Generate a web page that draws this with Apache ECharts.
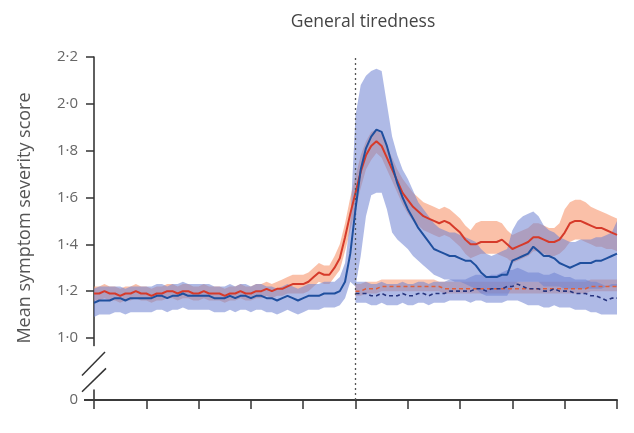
<!DOCTYPE html>
<html>
<head>
<meta charset="utf-8">
<style>html,body{margin:0;padding:0;background:#fff;}#c{width:634px;height:433px;}</style>
<script src="https://cdn.jsdelivr.net/npm/echarts@6/dist/echarts.min.js"></script>
</head>
<body>
<div id="c"></div>
<script>
// x positions: 10 tick intervals, samples every 0.1
const xTicks = [0,1,2,3,4,5,6,7,8,9,10];
const testX = 5;
const yTickValues = [0.735, 1.0, 1.2, 1.4, 1.6, 1.8, 2.0, 2.2];
const yTickLabels = ['0', '1·0', '1·2', '1·4', '1·6', '1·8', '2·0', '2·2'];

const redMean = [1.19,1.19,1.20,1.19,1.19,1.18,1.19,1.19,1.20,1.19,
 1.19,1.18,1.19,1.19,1.20,1.20,1.19,1.20,1.20,1.19,
 1.19,1.20,1.19,1.19,1.19,1.18,1.19,1.19,1.20,1.19,
 1.19,1.20,1.20,1.21,1.20,1.21,1.21,1.22,1.23,1.23,
 1.23,1.24,1.26,1.28,1.27,1.27,1.30,1.34,1.43,1.53,
 1.62,1.71,1.78,1.82,1.84,1.82,1.77,1.72,1.67,1.62,
 1.59,1.56,1.54,1.52,1.51,1.50,1.49,1.50,1.49,1.47,
 1.45,1.42,1.40,1.40,1.41,1.41,1.41,1.41,1.42,1.40,
 1.38,1.39,1.40,1.41,1.43,1.43,1.42,1.41,1.41,1.42,
 1.45,1.49,1.50,1.50,1.49,1.48,1.47,1.47,1.46,1.45,
 1.44];
const redUpper = [1.22,1.22,1.23,1.22,1.22,1.21,1.22,1.22,1.23,1.22,
 1.22,1.21,1.22,1.22,1.23,1.23,1.22,1.23,1.23,1.22,
 1.22,1.23,1.22,1.22,1.22,1.21,1.22,1.22,1.23,1.22,
 1.22,1.23,1.23,1.24,1.23,1.24,1.25,1.26,1.27,1.27,
 1.27,1.28,1.30,1.32,1.31,1.31,1.35,1.40,1.49,1.60,
 1.69,1.78,1.84,1.88,1.89,1.87,1.82,1.77,1.72,1.68,
 1.65,1.62,1.60,1.58,1.57,1.56,1.55,1.56,1.55,1.53,
 1.51,1.48,1.46,1.49,1.50,1.50,1.50,1.50,1.49,1.46,
 1.44,1.45,1.46,1.47,1.49,1.49,1.48,1.47,1.47,1.49,
 1.55,1.58,1.59,1.59,1.58,1.56,1.55,1.54,1.53,1.52,
 1.51];
const redLower = [1.16,1.16,1.17,1.16,1.16,1.15,1.16,1.16,1.17,1.16,
 1.16,1.15,1.16,1.16,1.17,1.17,1.16,1.17,1.17,1.16,
 1.16,1.17,1.16,1.16,1.16,1.15,1.16,1.16,1.17,1.16,
 1.16,1.17,1.17,1.18,1.17,1.18,1.18,1.19,1.19,1.19,
 1.19,1.20,1.22,1.24,1.23,1.23,1.26,1.29,1.37,1.46,
 1.55,1.64,1.72,1.76,1.79,1.77,1.72,1.67,1.62,1.57,
 1.53,1.50,1.48,1.46,1.45,1.44,1.43,1.44,1.43,1.41,
 1.39,1.36,1.34,1.35,1.36,1.36,1.36,1.36,1.35,1.34,
 1.32,1.33,1.34,1.35,1.37,1.37,1.36,1.35,1.35,1.36,
 1.38,1.41,1.42,1.42,1.41,1.40,1.39,1.39,1.38,1.38,
 1.37];

const blueMean = [1.15,1.16,1.16,1.16,1.17,1.17,1.16,1.17,1.17,1.17,
 1.17,1.17,1.18,1.18,1.17,1.18,1.18,1.19,1.18,1.18,
 1.18,1.18,1.18,1.17,1.17,1.17,1.18,1.17,1.18,1.18,
 1.17,1.18,1.18,1.17,1.17,1.16,1.17,1.18,1.17,1.16,
 1.17,1.18,1.18,1.18,1.19,1.19,1.19,1.20,1.24,1.36,
 1.55,1.72,1.81,1.86,1.89,1.88,1.82,1.74,1.66,1.60,
 1.55,1.51,1.47,1.44,1.41,1.38,1.37,1.36,1.35,1.35,
 1.34,1.33,1.33,1.31,1.28,1.26,1.26,1.26,1.27,1.27,
 1.33,1.34,1.35,1.36,1.39,1.37,1.35,1.35,1.34,1.32,
 1.31,1.30,1.31,1.32,1.32,1.32,1.33,1.33,1.34,1.35,
 1.36];
const blueUpper = [1.21,1.22,1.22,1.22,1.22,1.22,1.21,1.22,1.22,1.22,
 1.22,1.22,1.23,1.23,1.22,1.23,1.23,1.24,1.23,1.23,
 1.23,1.23,1.23,1.22,1.22,1.22,1.23,1.22,1.23,1.23,
 1.22,1.23,1.23,1.22,1.22,1.21,1.22,1.23,1.22,1.21,
 1.22,1.23,1.23,1.23,1.24,1.24,1.24,1.26,1.32,1.50,
 1.95,2.08,2.12,2.14,2.15,2.14,2.00,1.86,1.78,1.72,
 1.68,1.63,1.58,1.55,1.52,1.49,1.47,1.46,1.45,1.45,
 1.44,1.43,1.42,1.41,1.38,1.36,1.35,1.36,1.37,1.38,
 1.46,1.50,1.52,1.53,1.54,1.52,1.48,1.46,1.45,1.43,
 1.42,1.41,1.41,1.42,1.42,1.42,1.43,1.43,1.44,1.45,
 1.50];
const blueLower = [1.09,1.10,1.10,1.10,1.11,1.11,1.10,1.11,1.11,1.11,
 1.11,1.11,1.12,1.12,1.11,1.12,1.12,1.13,1.12,1.12,
 1.12,1.12,1.12,1.11,1.11,1.11,1.12,1.11,1.12,1.12,
 1.11,1.12,1.12,1.11,1.11,1.10,1.11,1.12,1.11,1.10,
 1.11,1.12,1.12,1.12,1.13,1.13,1.13,1.14,1.17,1.24,
 1.22,1.35,1.52,1.61,1.62,1.62,1.55,1.45,1.42,1.40,
 1.38,1.35,1.33,1.31,1.29,1.27,1.26,1.25,1.25,1.24,
 1.24,1.23,1.22,1.21,1.19,1.18,1.18,1.18,1.18,1.18,
 1.22,1.24,1.24,1.24,1.24,1.24,1.22,1.22,1.22,1.22,
 1.21,1.21,1.21,1.21,1.21,1.21,1.21,1.21,1.22,1.22,
 1.22];

// control groups (dashed), from the test day onward
const navyDashMean = [1.19,1.19,1.19,1.18,1.18,1.19,1.18,1.18,1.18,1.19,
 1.18,1.18,1.19,1.19,1.18,1.19,1.19,1.19,1.20,1.20,
 1.20,1.20,1.20,1.21,1.21,1.20,1.21,1.21,1.21,1.22,
 1.22,1.23,1.22,1.21,1.21,1.21,1.20,1.20,1.21,1.20,
 1.20,1.20,1.19,1.19,1.19,1.18,1.18,1.17,1.16,1.17,
 1.17];
const navyDashUpper = [1.24,1.24,1.24,1.23,1.23,1.24,1.23,1.23,1.23,1.24,
 1.23,1.23,1.24,1.24,1.23,1.24,1.24,1.24,1.25,1.25,
 1.25,1.25,1.26,1.27,1.27,1.26,1.27,1.27,1.28,1.29,
 1.29,1.30,1.29,1.28,1.28,1.28,1.27,1.27,1.28,1.27,
 1.26,1.26,1.25,1.25,1.25,1.24,1.24,1.23,1.22,1.23,
 1.23];
const navyDashLower = [1.15,1.15,1.15,1.14,1.14,1.15,1.14,1.14,1.14,1.15,
 1.14,1.14,1.15,1.15,1.14,1.15,1.15,1.15,1.16,1.16,
 1.16,1.16,1.15,1.16,1.16,1.15,1.15,1.15,1.15,1.16,
 1.16,1.16,1.15,1.14,1.14,1.14,1.13,1.13,1.14,1.13,
 1.13,1.13,1.12,1.12,1.12,1.11,1.11,1.10,1.10,1.10,
 1.10];
const redDashMean = [1.20,1.20,1.21,1.21,1.21,1.22,1.22,1.22,1.22,1.22,
 1.22,1.22,1.22,1.22,1.22,1.22,1.22,1.21,1.21,1.21,
 1.21,1.21,1.21,1.21,1.21,1.21,1.21,1.21,1.21,1.21,
 1.21,1.21,1.21,1.21,1.21,1.21,1.21,1.21,1.21,1.21,
 1.21,1.21,1.21,1.21,1.21,1.22,1.22,1.22,1.22,1.22,
 1.22];
const redDashUpper = [1.23,1.23,1.24,1.24,1.24,1.25,1.25,1.25,1.25,1.25,
 1.25,1.25,1.25,1.25,1.25,1.25,1.24,1.24,1.24,1.24,
 1.24,1.24,1.24,1.24,1.24,1.24,1.24,1.24,1.24,1.24,
 1.24,1.24,1.24,1.24,1.24,1.24,1.24,1.24,1.24,1.24,
 1.24,1.24,1.24,1.24,1.24,1.25,1.25,1.25,1.25,1.25,
 1.25];
const redDashLower = [1.18,1.18,1.19,1.19,1.19,1.20,1.20,1.20,1.20,1.20,
 1.20,1.20,1.20,1.20,1.20,1.20,1.20,1.19,1.19,1.19,
 1.19,1.19,1.19,1.19,1.19,1.19,1.19,1.19,1.19,1.19,
 1.19,1.19,1.19,1.19,1.19,1.19,1.19,1.19,1.19,1.19,
 1.19,1.19,1.19,1.19,1.19,1.20,1.20,1.20,1.20,1.20,
 1.20];

const STEP = 0.1;
function xAt(i, offset) { return Math.round((i + offset) * STEP * 1000) / 1000; }
function pairs(arr, offset) { return arr.map((v, i) => [xAt(i, offset), v]); }

function band(lower, upper, offset, fill, z) {
  return {
    type: 'custom', z: z, silent: true, clip: true,
    data: [[xAt(0, offset), lower[0]]],
    renderItem: function (params, api) {
      const pts = [];
      for (let i = 0; i < upper.length; i++) pts.push(api.coord([xAt(i, offset), upper[i]]));
      for (let i = lower.length - 1; i >= 0; i--) pts.push(api.coord([xAt(i, offset), lower[i]]));
      return { type: 'polygon', shape: { points: pts }, style: { fill: fill } };
    }
  };
}
function line(arr, offset, color, width, type, z) {
  return {
    type: 'line', data: pairs(arr, offset), symbol: 'none', silent: true, z: z,
    lineStyle: { color: color, width: width, type: type }
  };
}

const chart = echarts.init(document.getElementById('c'), null, { renderer: 'canvas' });
const dashOffset = testX / STEP;

const option = {
  animation: false,
  backgroundColor: '#ffffff',
  title: {
    text: 'General tiredness', left: 358, top: 8, textAlign: 'center',
    textStyle: { fontFamily: 'Open Sans', fontSize: 17.5, fontWeight: 'normal', color: '#444' }
  },
  grid: { left: 94, right: 17, top: 57, bottom: 33 },
  xAxis: {
    type: 'value', min: 0, max: 10, interval: 1,
    axisLine: { show: true, lineStyle: { color: '#3a3a3a', width: 2 } },
    axisTick: { show: true, inside: false, length: 9, lineStyle: { color: '#333', width: 1.5 } },
    axisLabel: { show: false },
    splitLine: { show: false }
  },
  yAxis: {
    type: 'value', min: 0.735, max: 2.2,
    axisLine: { show: true, lineStyle: { color: '#2a2a2a', width: 1.5 } },
    axisTick: { show: true, length: 8, customValues: yTickValues, lineStyle: { color: '#333', width: 1.5 } },
    axisLabel: {
      customValues: yTickValues, margin: 16,
      fontFamily: 'Open Sans', fontSize: 15, color: '#666',
      formatter: function (v) {
        let best = 0;
        for (let i = 0; i < yTickValues.length; i++) if (Math.abs(yTickValues[i] - v) < Math.abs(yTickValues[best] - v)) best = i;
        return yTickLabels[best];
      }
    },
    splitLine: { show: false }
  },
  series: [
    band(redLower, redUpper, 0, 'rgba(246,150,110,0.6)', 1),
    band(redDashLower, redDashUpper, dashOffset, 'rgba(246,150,110,0.55)', 1),
    band(blueLower, blueUpper, 0, 'rgba(110,130,210,0.55)', 2),
    band(navyDashLower, navyDashUpper, dashOffset, 'rgba(110,130,210,0.55)', 2),
    line(redDashMean, dashOffset, '#e0603c', 1.5, [4, 3], 3),
    line(navyDashMean, dashOffset, '#27357f', 1.6, [4, 3], 3),
    Object.assign(line(redMean, 0, '#d63a2a', 2, 'solid', 4), {
      markLine: {
        silent: true, symbol: 'none', label: { show: false },
        lineStyle: { color: '#555', type: [2, 3], width: 1.3 },
        data: [{ xAxis: testX }]
      }
    }),
    line(blueMean, 0, '#1f4f9e', 2, 'solid', 5)
  ]
};
chart.setOption(option);

// axis-break marks on the y axis, placed through the axis scale
const ax = chart.convertToPixel({ xAxisIndex: 0 }, 0);
const axisY = chart.convertToPixel({ yAxisIndex: 0 }, 0.735);
const yTop = chart.convertToPixel({ yAxisIndex: 0 }, 0.965);
const yBot = chart.convertToPixel({ yAxisIndex: 0 }, 0.78);
const s1a = chart.convertToPixel({ yAxisIndex: 0 }, 0.84);
const s1b = chart.convertToPixel({ yAxisIndex: 0 }, 0.94);
const s2a = chart.convertToPixel({ yAxisIndex: 0 }, 0.77);
const s2b = chart.convertToPixel({ yAxisIndex: 0 }, 0.87);
chart.setOption({
  graphic: [
    { type: 'rect', z: 100, shape: { x: ax - 4, y: yTop, width: 8, height: yBot - yTop }, style: { fill: '#fff' } },
    { type: 'line', z: 101, shape: { x1: ax - 12, y1: s1a, x2: ax + 11, y2: s1b }, style: { stroke: '#333', lineWidth: 1.5 } },
    { type: 'line', z: 101, shape: { x1: ax - 12, y1: s2a, x2: ax + 12, y2: s2b }, style: { stroke: '#333', lineWidth: 1.5 } },
    { type: 'line', z: 101, shape: { x1: ax - 10, y1: axisY, x2: ax, y2: axisY }, style: { stroke: '#3a3a3a', lineWidth: 2 } },
    {
      type: 'text', z: 101, x: 25, y: 218, rotation: Math.PI / 2,
      style: { text: 'Mean symptom severity score', fontFamily: 'Open Sans', fontSize: 18, fill: '#555', align: 'center', verticalAlign: 'middle' }
    }
  ]
});
</script>
</body>
</html>
